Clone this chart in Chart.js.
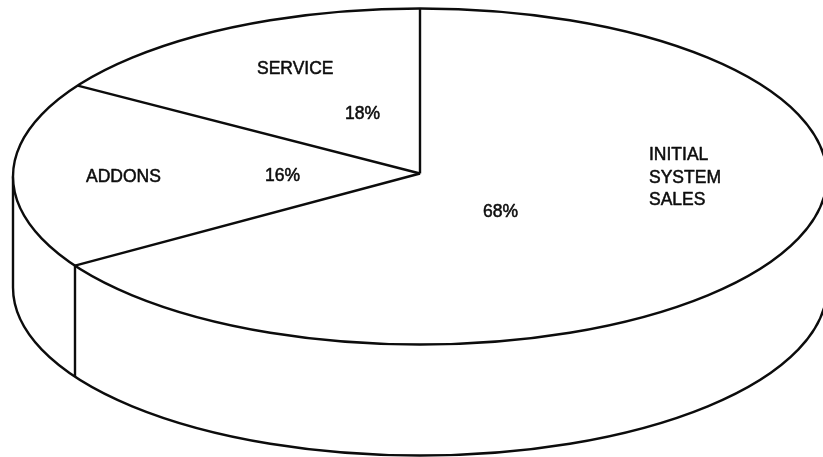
<!DOCTYPE html>
<html>
<head>
<meta charset="utf-8">
<style>
  html, body { margin: 0; background: #fff; overflow: hidden; }
  canvas { display: block; }
</style>
<script src="https://cdn.jsdelivr.net/npm/chart.js@4"></script>
</head>
<body>
<canvas id="pie3d" width="823" height="457"></canvas>
<script>
// Data. Slice sizes follow the drawn wedges, which
// do not agree with the printed percentages (those even add up to 102).
const sliceNames = ["INITIAL SYSTEM SALES", "ADDONS", "SERVICE"];
const sliceShares = [66.1, 18, 15.9];
const printedPercents = ["68%", "16%", "18%"];

// Where the captions sit: [left, baseline]
const captions = [
  ["INITIAL", 649, 160],
  ["SYSTEM", 649, 183],
  ["SALES", 649, 205],
  [sliceNames[1], 86, 182],
  [sliceNames[2], 257, 74],
  [printedPercents[0], 483, 217],
  [printedPercents[1], 265, 181],
  [printedPercents[2], 345, 119]
];

const squash = 168 / 407;
const depth = 111;
const hubLift = 3;
const ink = "#0c0c0c";
const lineWidth = 2.4;

// Tilts the pie and adds the side wall, spokes and rim
const tiltPlugin = {
  id: "tilt",
  beforeDatasetsDraw(chart) {
    const ctx = chart.ctx;
    const arcs = chart.getDatasetMeta(0).data;
    const { x, y, outerRadius } = arcs[0];
    const ry = outerRadius * squash;

    ctx.save();
    ctx.strokeStyle = ink;
    ctx.lineWidth = lineWidth;
    ctx.lineJoin = "round";

    // side wall: front half of the lower ellipse and the two verticals
    ctx.beginPath();
    ctx.moveTo(x - outerRadius, y);
    ctx.lineTo(x - outerRadius, y + depth);
    ctx.ellipse(x, y + depth, outerRadius, ry, 0, Math.PI, 0, true);
    ctx.lineTo(x + outerRadius, y);
    ctx.stroke();

    // seam under the ADDONS / INITIAL boundary
    const seam = arcs[0].endAngle;
    const sx = x + outerRadius * Math.cos(seam);
    const sy = y + ry * Math.sin(seam);
    ctx.beginPath();
    ctx.moveTo(sx, sy);
    ctx.lineTo(sx, sy + depth);
    ctx.stroke();
    ctx.restore();

    // the library draws its wedges inside this squashed transform
    ctx.save();
    ctx.translate(x, y);
    ctx.scale(1, squash);
    ctx.translate(-x, -y);
  },
  afterDatasetsDraw(chart) {
    const ctx = chart.ctx;
    ctx.restore();

    const arcs = chart.getDatasetMeta(0).data;
    const { x, y, outerRadius } = arcs[0];
    const ry = outerRadius * squash;

    ctx.save();
    ctx.strokeStyle = ink;
    ctx.lineWidth = lineWidth;
    ctx.lineJoin = "round";
    ctx.beginPath();
    ctx.ellipse(x, y, outerRadius, ry, 0, 0, Math.PI * 2);
    ctx.stroke();

    arcs.forEach(arc => {
      ctx.beginPath();
      ctx.moveTo(x, y - hubLift);
      ctx.lineTo(x + outerRadius * Math.cos(arc.startAngle), y + ry * Math.sin(arc.startAngle));
      ctx.stroke();
    });

    // the scan fattens the type, so give it a thin outline as well
    ctx.fillStyle = ink;
    ctx.lineWidth = 0.5;
    ctx.font = '17.5px "Liberation Sans", Arial, sans-serif';
    ctx.textBaseline = "alphabetic";
    captions.forEach(([text, left, base]) => {
      ctx.fillText(text, left, base);
      ctx.strokeText(text, left, base);
    });
    ctx.restore();
  }
};

new Chart(document.getElementById("pie3d"), {
  type: "pie",
  data: {
    labels: sliceNames,
    datasets: [{
      data: sliceShares,
      backgroundColor: "#fff",
      borderWidth: 0,
      clip: false
    }]
  },
  options: {
    responsive: false,
    animation: false,
    radius: 407,
    layout: { padding: { left: 17, right: 0, top: 0, bottom: 104 } },
    plugins: { legend: { display: false }, tooltip: { enabled: false } }
  },
  plugins: [tiltPlugin]
});
</script>
</body>
</html>
